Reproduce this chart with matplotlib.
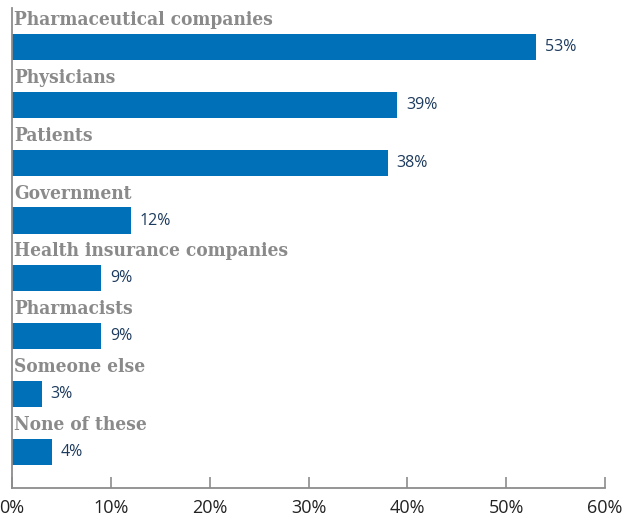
import matplotlib
matplotlib.use("Agg")
import matplotlib.pyplot as plt
from matplotlib.ticker import FuncFormatter

categories = [
    "Pharmaceutical companies",
    "Physicians",
    "Patients",
    "Government",
    "Health insurance companies",
    "Pharmacists",
    "Someone else",
    "None of these",
]
values = [53, 39, 38, 12, 9, 9, 3, 4]
xticks = [0, 10, 20, 30, 40, 50, 60]

bar_color = "#0070b9"
label_color = "#8a8a8a"
value_color = "#1d3b5e"
axis_color = "#8c8c8c"

fig = plt.figure(figsize=(6.26, 5.2), dpi=100)
ax = fig.add_axes([0.0192, 0.0615, 0.9473, 0.9231])

ypos = list(range(len(categories)))
ax.barh(ypos, values, height=0.45, color=bar_color, zorder=2)

for y, cat, v in zip(ypos, categories, values):
    ax.text(0.25, y - 0.38, cat, ha="left", va="baseline",
            fontsize=13.7, fontweight="bold", family="DejaVu Serif",
            fontstretch="condensed", color=label_color)
    ax.text(v + 0.9, y, f"{v}%", ha="left", va="center",
            fontsize=11.5, family="Open Sans", color=value_color)

ax.set_xlim(0, 60)
ax.set_ylim(7.62, -0.67)
ax.set_xticks(xticks)
ax.xaxis.set_major_formatter(FuncFormatter(lambda x, _: f"{int(x)}%"))
ax.set_yticks([])

for side in ("top", "right"):
    ax.spines[side].set_visible(False)
for side in ("left", "bottom"):
    ax.spines[side].set_color(axis_color)
    ax.spines[side].set_linewidth(1.3)

ax.tick_params(axis="x", direction="in", length=8, width=1.2,
               color=axis_color, pad=8, labelsize=13, labelcolor="#222222")
for lbl in ax.get_xticklabels():
    lbl.set_family("Open Sans")

fig.savefig("out.png", dpi=100)
